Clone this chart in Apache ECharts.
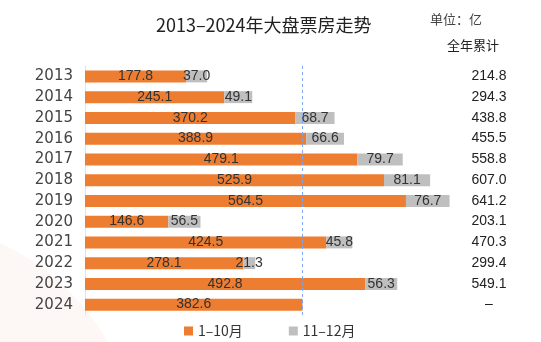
<!DOCTYPE html>
<html>
<head>
<meta charset="utf-8">
<script src="https://cdn.jsdelivr.net/npm/echarts@6/dist/echarts.min.js"></script>
<style>
  html, body { margin: 0; padding: 0; background: #ffffff; }
  #chart { width: 541px; height: 342px; }
</style>
</head>
<body>
<div id="chart"></div>
<script>
// Annual box office (亿元), Jan–Oct vs Nov–Dec
const years = ['2013','2014','2015','2016','2017','2018','2019','2020','2021','2022','2023','2024'];
const janToOct = [177.8, 245.1, 370.2, 388.9, 479.1, 525.9, 564.5, 146.6, 424.5, 278.1, 492.8, 382.6];
const novToDec = [37.0, 49.1, 68.7, 66.6, 79.7, 81.1, 76.7, 56.5, 45.8, 21.3, 56.3, null];
const yearTotals = ['214.8','294.3','438.8','455.5','558.8','607.0','641.2','203.1','470.3','299.4','549.1','–'];
const referenceValue = 382.6;

const chart = echarts.init(document.getElementById('chart'), null, { renderer: 'canvas' });

const labelFont = 'Liberation Sans, Arial, sans-serif';
const cjkFont = '"Noto Sans CJK SC", "Liberation Sans", sans-serif';

chart.setOption({
  animation: false,
  backgroundColor: '#ffffff',
  title: {
    text: '2013–2024年大盘票房走势',
    left: 151,
    top: 11,
    textStyle: { fontFamily: cjkFont, fontSize: 18, fontWeight: 'normal', color: '#222' }
  },
  graphic: [
    {
      type: 'circle', z: -10, silent: true,
      shape: { cx: -100, cy: 460, r: 239 },
      style: { fill: '#fdf8f5' }
    },
    {
      type: 'text', left: 430, top: 13,
      style: { text: '单位：亿', font: '13px ' + cjkFont, fill: '#444' }
    },
    {
      type: 'text', left: 447, top: 39,
      style: { text: '全年累计', font: '13px ' + cjkFont, fill: '#222' }
    }
  ],
  legend: {
    left: 179,
    top: 319,
    itemWidth: 9,
    itemHeight: 9,
    itemGap: 46,
    icon: 'rect',
    textStyle: { fontFamily: cjkFont, fontSize: 14, color: '#333' },
    data: ['1–10月', '11–12月']
  },
  grid: { left: 85, right: 58, top: 66, bottom: 27, containLabel: false },
  xAxis: {
    type: 'value',
    min: 0,
    max: 700,
    show: false
  },
  yAxis: [
    {
      type: 'category',
      data: years,
      inverse: true,
      axisLine: { show: true, lineStyle: { color: '#e3e3e3' } },
      axisTick: { show: false },
      axisLabel: { margin: 12, fontFamily: 'DejaVu Sans, sans-serif', fontSize: 15, color: '#444' }
    },
    {
      type: 'category',
      data: yearTotals,
      inverse: true,
      position: 'right',
      axisLine: { show: false },
      axisTick: { show: false },
      axisLabel: { margin: 6, align: 'center', fontFamily: labelFont, fontSize: 14, color: '#222' }
    }
  ],
  series: [
    {
      name: '1–10月',
      type: 'bar',
      stack: 'total',
      barWidth: 12,
      data: janToOct,
      itemStyle: { color: '#ED7D31' },
      label: {
        show: true,
        position: 'inside',
        formatter: p => p.value.toFixed(1),
        fontFamily: labelFont, fontSize: 14, color: '#333'
      },
      markLine: {
        silent: true,
        symbol: ['none', 'none'],
        label: { show: false },
        lineStyle: { color: '#7fa6ee', type: [3, 3], width: 1 },
        data: [{ xAxis: referenceValue }]
      }
    },
    {
      name: '11–12月',
      type: 'bar',
      stack: 'total',
      barWidth: 12,
      data: novToDec,
      itemStyle: { color: '#BFBFBF' },
      label: {
        show: true,
        position: 'inside',
        formatter: p => (p.value == null ? '' : p.value.toFixed(1)),
        fontFamily: labelFont, fontSize: 14, color: '#333'
      }
    }
  ]
});
</script>
</body>
</html>
